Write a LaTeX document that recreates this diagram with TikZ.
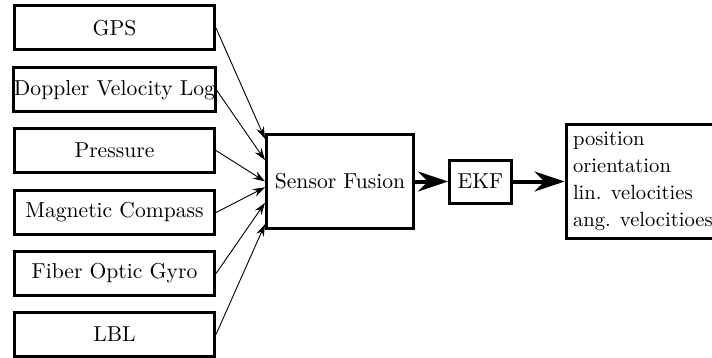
\documentclass[tikz,border=0pt]{standalone}
\usetikzlibrary{arrows.meta,calc}
\begin{document}
\begin{tikzpicture}[x=0.5pt,y=-0.5pt,
  every node/.style={font=\fontsize{10.8pt}{13.4pt}\selectfont},
  sensorbox/.style={draw,line width=1.5pt,minimum width=100pt,minimum height=22pt,inner xsep=0pt,inner ysep=2pt},
  procbox/.style={draw,line width=1.5pt,inner sep=0pt},
  thinarrow/.style={line width=0.45pt,-{Stealth[length=6pt,width=4pt]}},
  thickarrow/.style={line width=2pt,-{Stealth[length=15pt,width=10pt,inset=5pt]}}]
\useasboundingbox (0,0) rectangle (712,358);
\node[sensorbox] (gps) at (114.5,28) {GPS};
\node[sensorbox] (dvl) at (114.5,90) {Doppler Velocity Log};
\node[sensorbox] (pres) at (114.5,150.5) {Pressure};
\node[sensorbox] (mag) at (114.5,212.5) {Magnetic Compass};
\node[sensorbox] (fog) at (114.5,273.5) {Fiber Optic Gyro};
\node[sensorbox] (lbl) at (114.5,334.5) {LBL};
\node[procbox,minimum width=73.5pt,minimum height=47pt] (sf) at (340,181.5) {Sensor Fusion};
\node[procbox,minimum width=31pt,minimum height=21.5pt] (ekf) at (480.5,181.5) {EKF};
\node[draw,line width=1.5pt,anchor=west,align=left,inner xsep=3.5pt,inner ysep=3pt,minimum height=56.5pt,font=\fontsize{10.3pt}{13.5pt}\selectfont] (out) at (564.5,181.5) {position\\orientation\\lin. velocities\\ang. velocitioes};
\draw[thinarrow] (gps.east) -- ($(sf.north west)!0.06!(sf.south west)$);
\draw[thinarrow] (dvl.east) -- ($(sf.north west)!0.28!(sf.south west)$);
\draw[thinarrow] (pres.east) -- ($(sf.north west)!0.50!(sf.south west)$);
\draw[thinarrow] (mag.east) -- ($(sf.north west)!0.56!(sf.south west)$);
\draw[thinarrow] (fog.east) -- ($(sf.north west)!0.72!(sf.south west)$);
\draw[thinarrow] (lbl.east) -- ($(sf.north west)!0.94!(sf.south west)$);
\draw[thickarrow] (sf.east) -- (ekf.west);
\draw[thickarrow] (ekf.east) -- (out.west);
\end{tikzpicture}
\end{document}
